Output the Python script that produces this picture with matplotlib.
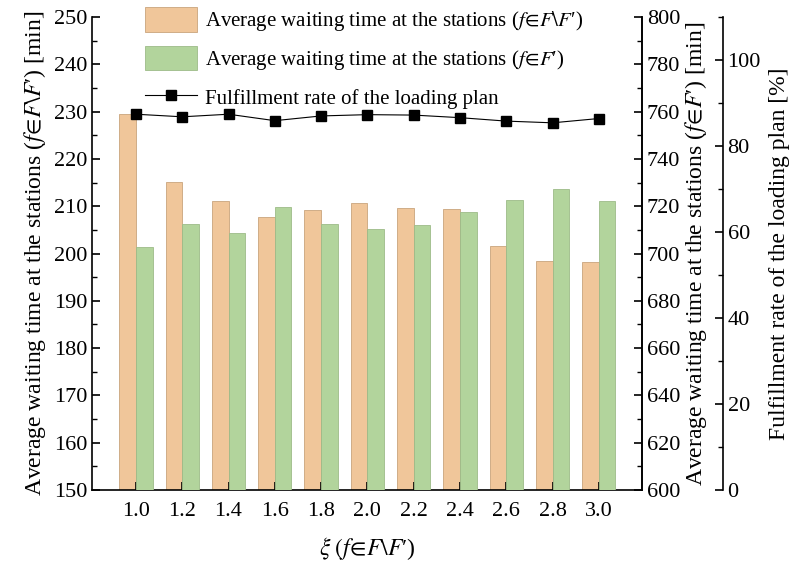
import matplotlib.pyplot as plt
import numpy as np
from matplotlib.ticker import MultipleLocator

plt.rcParams['font.family'] = ['Liberation Serif', 'DejaVu Serif']
plt.rcParams['mathtext.fontset'] = 'stix'
plt.rcParams['font.size'] = 16

xi = ['1.0', '1.2', '1.4', '1.6', '1.8', '2.0', '2.2', '2.4', '2.6', '2.8', '3.0']
wait_other = [229.6, 215.1, 211.1, 207.7, 209.2, 210.7, 209.6, 209.5, 201.5, 198.4, 198.2]
wait_f = [702.8, 712.6, 708.7, 719.5, 712.6, 710.5, 712.0, 717.6, 722.6, 727.1, 722.0]
rate = [87.4, 86.8, 87.4, 85.9, 87.0, 87.3, 87.2, 86.6, 85.8, 85.4, 86.4]

x = np.arange(len(xi))
w = 0.36

fig = plt.figure(figsize=(7.98, 5.63), dpi=100)
ax = fig.add_axes([0.1153, 0.1297, 0.689, 0.840])
ax2 = ax.twinx()
ax3 = ax.twinx()

b1 = ax.bar(x - w/2, wait_other, w, color='#F0C69A', edgecolor='#C9A47C', linewidth=0.6,
            label=r"Average waiting time at the stations ($f\!\in\!F\backslash F$′)")
b2 = ax2.bar(x + w/2, wait_f, w, color='#B2D49C', edgecolor='#9DBB88', linewidth=0.6,
             label=r"Average waiting time at the stations ($f\!\in\!F$′)")
l3, = ax3.plot(x, rate, color='black', lw=0.8, marker='s', ms=7,
               label='Fulfillment rate of the loading plan')

ax.set_xlim(-0.95, 10.93)
ax.set_ylim(150, 250)
ax2.set_ylim(600, 800)
ax3.set_ylim(0, 110)

ax.set_xticks(x)
ax.set_xticklabels(xi)
ax.yaxis.set_major_locator(MultipleLocator(10))
ax.yaxis.set_minor_locator(MultipleLocator(5))
ax2.yaxis.set_major_locator(MultipleLocator(20))
ax2.yaxis.set_minor_locator(MultipleLocator(10))
ax3.yaxis.set_minor_locator(MultipleLocator(10))
ax3.set_yticks([0, 20, 40, 60, 80, 100])

for a in (ax, ax2, ax3):
    a.spines['top'].set_visible(False)
    a.tick_params(which='major', direction='in', length=6, width=1.2)
    a.tick_params(which='minor', direction='in', length=3.5, width=1.0)
    for s in a.spines.values():
        s.set_linewidth(1.2)
ax.tick_params(axis='x', pad=9)

ax3.spines['right'].set_position(('axes', 1.147))
for s in ('left', 'bottom'):
    ax2.spines[s].set_visible(False)
    ax3.spines[s].set_visible(False)

ax.set_xlabel(r"$\xi\;(f\!\in\!F\backslash F$′)", labelpad=10, fontsize=17)
ax.set_ylabel(r"Average waiting time at the stations ($f\!\in\!F\backslash F$′) [min]",
              labelpad=4, fontsize=17)
ax2.set_ylabel(r"Average waiting time at the stations ($f\!\in\!F$′) [min]",
               labelpad=2, fontsize=17)
ax3.set_ylabel('Fulfillment rate of the loading plan [%]', labelpad=6, fontsize=17)

fig.legend(handles=[b1, b2, l3], loc='upper left', bbox_to_anchor=(0.158, 1.02),
           frameon=False, fontsize=15, handlelength=2.5, handleheight=1.4,
           labelspacing=0.62, handletextpad=0.4)

fig.savefig('out.png', dpi=100)
